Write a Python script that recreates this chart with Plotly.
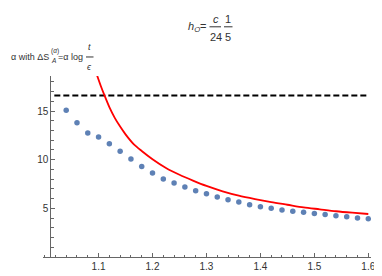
import plotly.graph_objects as go

# ---- data ----
n_pts = [1.04, 1.06, 1.08, 1.10, 1.12, 1.14, 1.16, 1.18, 1.20, 1.22, 1.24, 1.26,
         1.28, 1.30, 1.32, 1.34, 1.36, 1.38, 1.40, 1.42, 1.44, 1.46, 1.48, 1.50,
         1.52, 1.54, 1.56, 1.58, 1.60]
alpha_pts = [15.07, 13.79, 12.74, 12.33, 11.63, 10.87, 10.08, 9.31, 8.62, 8.02, 7.60, 7.19,
             6.81, 6.50, 6.17, 5.89, 5.64, 5.38, 5.16, 5.00, 4.84, 4.71, 4.59, 4.46,
             4.36, 4.24, 4.14, 4.02, 3.92]

n_curve = [1.097, 1.104, 1.111, 1.12, 1.13, 1.14, 1.15, 1.165, 1.18, 1.20, 1.225, 1.25,
           1.275, 1.30, 1.33, 1.36, 1.39, 1.42, 1.45, 1.48, 1.51, 1.54, 1.57, 1.60]
alpha_curve = [18.7, 17.6, 16.6, 15.4, 14.3, 13.4, 12.6, 11.6, 10.9, 10.05, 9.15, 8.45,
               7.85, 7.3, 6.75, 6.3, 5.95, 5.64, 5.37, 5.1, 4.9, 4.7, 4.55, 4.42]

n_dash = [1.018, 1.60]
alpha_dash = [16.6, 16.6]

x_ticks = [1.1, 1.2, 1.3, 1.4, 1.5, 1.6]
x_ticktext = ["1.1", "1.2", "1.3", "1.4", "1.5", "1.6"]
y_ticks = [5, 10, 15]
y_ticktext = ["5", "10", "15"]

# ---- layout geometry ----
W, H = 382, 276
L, R, T, B = 35, 19, 68, 13
PW, PH = W - L - R, H - T - B

def px(x, y):
    return (x - L) / PW, (H - B - y) / PH

FONT = "Liberation Sans, Arial, sans-serif"
TXT = "#333333"
AX = "#666666"

fig = go.Figure()
fig.add_trace(go.Scatter(x=n_dash, y=alpha_dash, mode="lines",
                         line=dict(color="black", width=2, dash="6px,3px"),
                         hoverinfo="skip"))
fig.add_trace(go.Scatter(x=n_curve, y=alpha_curve, mode="lines",
                         line=dict(color="#FF0000", width=1.8, shape="spline", smoothing=0.8)))
fig.add_trace(go.Scatter(x=n_pts, y=alpha_pts, mode="markers",
                         marker=dict(color="#5E81B5", size=5.5)))

yaxis_pos = (42.3 - L) / PW

fig.update_layout(
    width=W, height=H,
    margin=dict(l=L, r=R, t=T, b=B),
    paper_bgcolor="white", plot_bgcolor="white",
    showlegend=False,
    font=dict(family=FONT, size=10, color=TXT),
    xaxis=dict(range=[0.997, 1.605], showgrid=False, zeroline=False,
               showline=True, linecolor=AX, linewidth=1,
               tickmode="array", tickvals=x_ticks, ticktext=x_ticktext,
               ticks="inside", ticklen=4, tickcolor=AX,
               minor=dict(tick0=1.0, dtick=0.02, ticks="inside", ticklen=2.5, tickcolor=AX),
               tickfont=dict(size=10, color=TXT, family=FONT)),
    yaxis=dict(range=[0, 18.6], showgrid=False, zeroline=False,
               anchor="free", position=yaxis_pos,
               showline=True, linecolor=AX, linewidth=1,
               tickmode="array", tickvals=y_ticks, ticktext=y_ticktext,
               ticks="inside", ticklen=4, tickcolor=AX,
               minor=dict(tick0=0, dtick=1, ticks="inside", ticklen=2.5, tickcolor=AX),
               tickfont=dict(size=10, color=TXT, family=FONT)),
)

def ann(text, x, y, size=10, xanchor="center", yanchor="middle"):
    ax_, ay_ = px(x, y)
    fig.add_annotation(text=text, x=ax_, y=ay_, xref="paper", yref="paper",
                       showarrow=False, xanchor=xanchor, yanchor=yanchor,
                       font=dict(size=size, color=TXT, family=FONT))

def bar(x0, x1, y):
    a0, b0 = px(x0, y)
    a1, _ = px(x1, y)
    fig.add_shape(type="line", xref="paper", yref="paper", x0=a0, x1=a1, y0=b0, y1=b0,
                  line=dict(color=TXT, width=1))

# title: h_O = c/24 1/5
ann("<i>h</i><sub><i>O</i></sub>=", 201, 15, size=11, xanchor="right")
bar(201.5, 213, 15)
ann("<i>c</i>", 207.5, 7, size=11)
ann("24", 207.5, 26.5, size=11)
bar(216, 224.5, 15)
ann("1", 220, 7, size=11)
ann("5", 220, 26.5, size=11)

# y label: α with ΔS_A^(α) = α log t/ε
ann("α with ΔS", 1, 47, size=9, xanchor="left")
ann("<i>A</i>", 41, 51, size=6.5, xanchor="left")
ann("(<i>α</i>)", 40.5, 41, size=6.5, xanchor="left")
ann("=α log", 48, 47, size=9, xanchor="left")
bar(78, 85.5, 47.5)
ann("<i>t</i>", 81.7, 37, size=9)
ann("<i>ϵ</i>", 81.7, 58, size=9)

# x label
ann("n", 370, 261, size=9)

fig.write_html("out.html")
